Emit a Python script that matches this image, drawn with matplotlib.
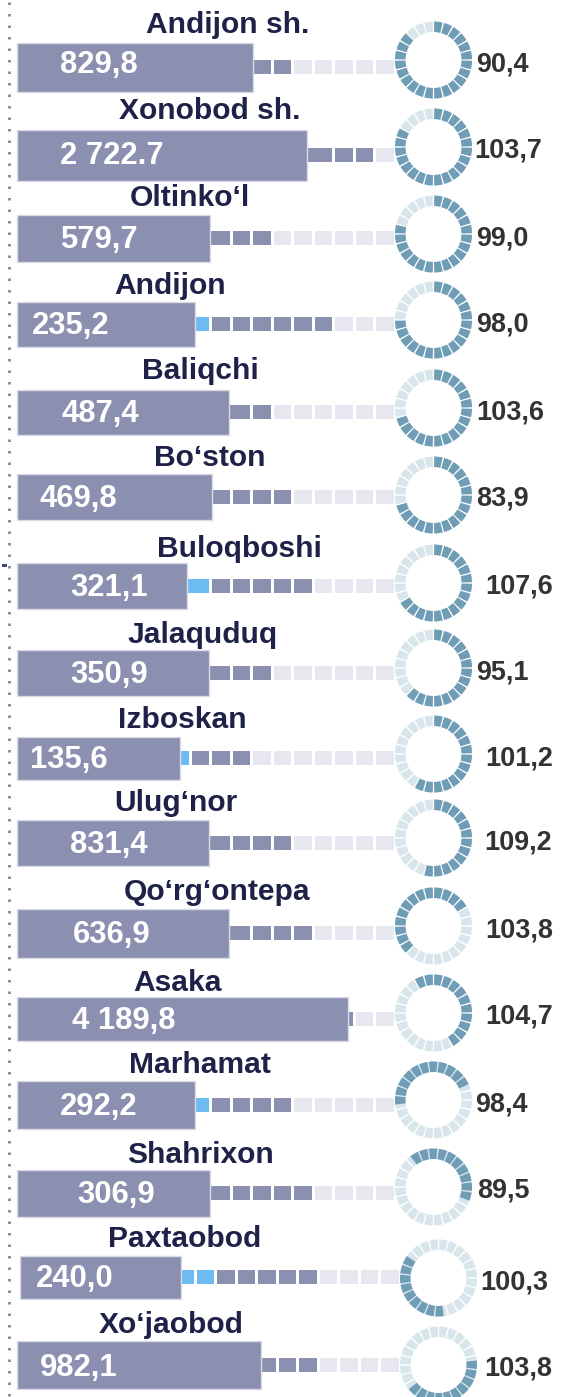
"""District infographic: value bars, square tracks and segmented growth rings."""

import numpy as np
import matplotlib
matplotlib.use('Agg')
import matplotlib.pyplot as plt
from matplotlib.patches import Wedge, Rectangle

# ---- data ----
names = ['Andijon sh.', 'Xonobod sh.', 'Oltinko‘l', 'Andijon', 'Baliqchi', 'Bo‘ston',
         'Buloqboshi', 'Jalaquduq', 'Izboskan', 'Ulug‘nor', 'Qo‘rg‘ontepa', 'Asaka',
         'Marhamat', 'Shahrixon', 'Paxtaobod', 'Xo‘jaobod']
value_labels = ['829,8', '2 722.7', '579,7', '235,2', '487,4', '469,8', '321,1', '350,9',
                '135,6', '831,4', '636,9', '4 189,8', '292,2', '306,9', '240,0', '982,1']
growth_labels = ['90,4', '103,7', '99,0', '98,0', '103,6', '83,9', '107,6', '95,1',
                 '101,2', '109,2', '103,8', '104,7', '98,4', '89,5', '100,3', '103,8']
# bar right ends as drawn (pixels)
bar_end = [253, 307, 210, 195, 229, 212, 187, 209, 180, 209, 229, 348, 195, 210, 181, 261]
# square track: blue / dark / light counts
n_blue = [0, 0, 0, 1, 0, 0, 1, 0, 1, 0, 0, 0, 1, 0, 2, 0]
n_dark = [2, 3, 3, 6, 2, 4, 5, 3, 3, 4, 4, 1, 4, 5, 5, 3]
n_light = [5, 1, 6, 3, 6, 5, 4, 6, 7, 5, 4, 2, 5, 4, 4, 4]
# ring: dark arc start (clock degrees) and number of dark segments
ring_start = [0, 0, 0, 0, 0, 0, 0, 0, 0, 0, 225, 330, 262, 322, 171, 82]
ring_segs = [21, 20, 19, 18, 17, 17, 16, 15, 14, 13, 13, 12, 11, 10, 9, 10]

# ---- layout ----
bar_left = [17] * 14 + [20, 17]
bar_center = [67, 155, 238, 324, 412, 497, 586, 673, 758, 843, 933, 1019, 1105, 1193, 1277, 1365]
bar_height = [49, 51, 47, 45, 45, 46, 46, 46, 43, 46, 49, 44, 48, 47, 43, 48]
row_shift = [0] * 14 + [5, 5]
ring_y = [60, 147, 234, 320, 408, 495, 583, 668, 754, 838, 926, 1013, 1100, 1187, 1278, 1365]
name_x = [228, 210, 190, 170, 200, 210, 239, 203, 182, 176, 217, 178, 200, 200, 185, 171]
name_base = [33, 119, 206, 294, 379, 466, 557, 643, 728, 811, 900, 991, 1073, 1163, 1247, 1333]
value_x = [60, 60, 60, 32, 61, 40, 70, 70, 30, 70, 73, 72, 60, 77, 36, 40]
value_dy = [6, 9, 10, 10, 10, 10, 10, 10, 10, 10, 10, 10, 10, 10, 10, 11]
growth_x = [476, 474, 476, 476, 476, 476, 485, 476, 485, 484, 485, 485, 475, 477, 480, 484]

BAR = '#8b90b1'
BAR_EDGE = '#d9dbe7'
SQ_LIGHT = '#e7e8ef'
SQ_BLUE = '#6cbcf2'
RING_DARK = '#6f9db5'
RING_LIGHT = '#d8e5eb'
NAME = '#1f2248'
GROWTH = '#333333'

W, H = 562, 1397
fig = plt.figure(figsize=(W / 100, H / 100), dpi=100)
ax = fig.add_axes([0, 0, 1, 1])
ax.set_xlim(0, W)
ax.set_ylim(H, 0)
ax.axis('off')

# dotted guide on the left
ax.plot([9, 9], [2, H], color='#7d7d7d', linewidth=1.8, linestyle=(0, (1, 3.6)))
ax.add_patch(Rectangle((2, 564), 5, 3, color='#3a4a8a', lw=0))

px = 72 / 100  # points per pixel
sq_w, sq_step, sq_h = 17.5, 20.45, 14
ring_r, ring_w = 38.5, 10.5
font = ['Liberation Sans', 'DejaVu Sans']

for i in range(len(names)):
    cy = bar_center[i]
    shift = row_shift[i]

    # square track (right to left: light, dark, blue)
    colors = [SQ_LIGHT] * n_light[i] + [BAR] * n_dark[i] + [SQ_BLUE] * n_blue[i]
    for j, c in enumerate(colors):
        left = 376 + shift - sq_step * j
        right = left + sq_w
        if j == len(colors) - 1:
            left = min(left, bar_end[i])
        ax.add_patch(Rectangle((left, cy - sq_h / 2), right - left, sq_h, color=c, lw=0, zorder=2))

    # bar
    ax.barh(cy, bar_end[i] - bar_left[i], left=bar_left[i], height=bar_height[i],
            color=BAR, edgecolor=BAR_EDGE, linewidth=1.0, zorder=3)
    ax.text(value_x[i], cy + value_dy[i], value_labels[i], color='white', fontsize=31 * px,
            fontweight='bold', family=font, va='baseline', zorder=4)

    # name
    ax.text(name_x[i], name_base[i], names[i], color=NAME, fontsize=30 * px, fontweight='bold',
            family=font, ha='center', va='baseline')

    # segmented ring
    rx, ry = 433.5 + shift, ring_y[i]
    gap = 2.4
    for k in range(24):
        a = 15 * k - 90
        ax.add_patch(Wedge((rx, ry), ring_r, a + gap / 2, a + 15 - gap / 2, width=ring_w,
                           color=RING_LIGHT, lw=0, zorder=2))
    for k in range(ring_segs[i]):
        a = ring_start[i] + 15 * k - 90
        ax.add_patch(Wedge((rx, ry), ring_r, a + gap / 2, a + 15 - gap / 2, width=ring_w,
                           color=RING_DARK, lw=0, zorder=3))

    ax.text(growth_x[i], ry + 11, growth_labels[i], color=GROWTH, fontsize=27 * px,
            fontweight='bold', family=font, va='baseline')

fig.savefig('out.png', dpi=100)
